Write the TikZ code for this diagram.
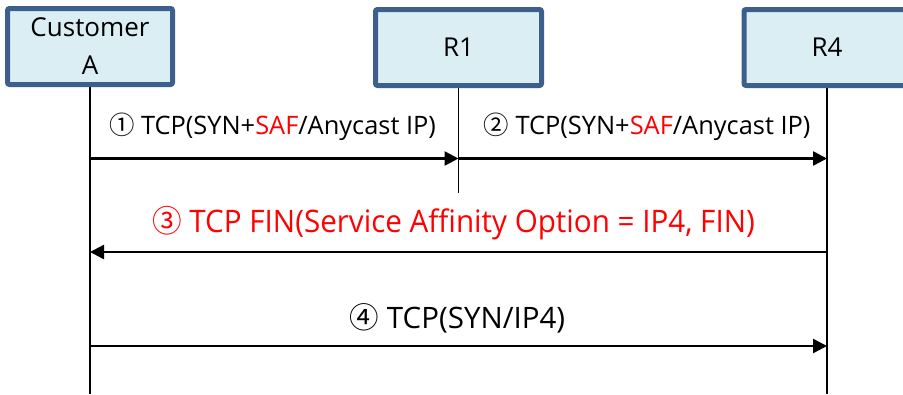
\documentclass[tikz,border=0pt]{standalone}
\usepackage{fontspec}
\setmainfont{Open Sans}
\newfontfamily\cjkfont{Noto Sans CJK SC}
\usetikzlibrary{arrows.meta}
\definecolor{boxfill}{RGB}{219,238,244}
\definecolor{boxline}{RGB}{60,95,140}
\definecolor{safred}{RGB}{255,0,0}
\newcommand{\circnum}[1]{{\cjkfont #1}}
\tikzset{
  actor/.style={draw=boxline, fill=boxfill, line width=5pt, rounded corners=2pt,
    minimum height=76pt, inner sep=0pt, align=center, font=\fontsize{26}{38}\selectfont},
  lifeline/.style={line width=1.5pt, black},
  msg/.style={line width=2.5pt, black, -{Triangle[length=14pt,width=14pt]}},
  msglabel/.style={inner sep=0pt, anchor=base, font=\fontsize{25.4}{30}\selectfont},
}
\begin{document}
\begin{tikzpicture}[x=1pt,y=-1pt]
\useasboundingbox (0,0) rectangle (903,394);
\clip (0,0) rectangle (903,394);
% lifelines
\coordinate (aTop) at (90,87);
\coordinate (aBot) at (90,394);
\coordinate (r1Top) at (458.5,87);
\coordinate (r1Bot) at (458.5,193);
\coordinate (r4Top) at (827,87);
\coordinate (r4Bot) at (827,394);
\draw[lifeline] (aTop) -- (aBot);
\draw[lifeline] (r1Top) -- (r1Bot);
\draw[lifeline] (r4Top) -- (r4Bot);
% actors
\node[actor, minimum width=165pt] (custA) at (90,46.5) {Customer\\A};
\node[actor, minimum width=166pt] (r1) at (458.5,47.5) {R1};
\node[actor, minimum width=166pt] (r4) at (827,47.5) {R4};
% message anchor points
\coordinate (m1s) at (90,158.5);
\coordinate (m1e) at (458.5,158.5);
\coordinate (m2e) at (827,158.5);
\coordinate (m3s) at (827,252);
\coordinate (m3e) at (90,252);
\coordinate (m4s) at (90,346);
\coordinate (m4e) at (827,346);
\draw[msg] (m1s) -- (m1e);
\draw[msg] (m1e) -- (m2e);
\draw[msg] (m3s) -- (m3e);
\draw[msg] (m4s) -- (m4e);
% labels
\node[msglabel] (l1) at (272.5,134) {\circnum{①} TCP(SYN+\textcolor{safred}{SAF}/Anycast IP)};
\node[msglabel] (l2) at (647,134) {\circnum{②} TCP(SYN+\textcolor{safred}{SAF}/Anycast IP)};
\node[msglabel, text=safred, font=\fontsize{31}{36}\selectfont] (l3) at (453.5,232)
  {\scalebox{0.955}[1]{\circnum{③} TCP FIN(Service Affinity Option = IP4, FIN)}};
\node[msglabel, font=\fontsize{29.5}{34}\selectfont] (l4) at (457.5,328)
  {\circnum{④} TCP(SYN/IP4)};
\end{tikzpicture}
\end{document}
